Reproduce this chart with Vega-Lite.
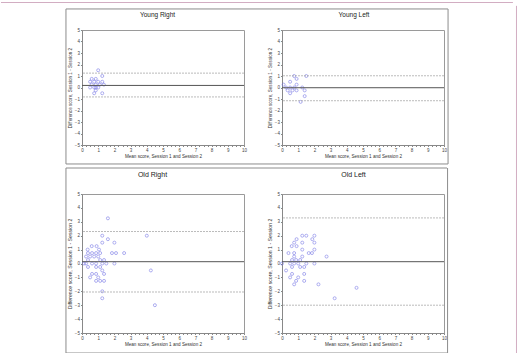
{
  "$schema": "https://vega.github.io/schema/vega-lite/v6.json",
  "background": "white",
  "padding": {"left": 0, "top": 1, "right": 0, "bottom": 0},
  "datasets": {
    "pts": [
      {"panel": "Young Right", "x": 1.0, "y": 1.5}, {"panel": "Young Right", "x": 1.25, "y": 1.0},
      {"panel": "Young Right", "x": 0.6, "y": 0.75}, {"panel": "Young Right", "x": 0.85, "y": 0.75},
      {"panel": "Young Right", "x": 0.5, "y": 0.5}, {"panel": "Young Right", "x": 0.75, "y": 0.5},
      {"panel": "Young Right", "x": 1.0, "y": 0.5}, {"panel": "Young Right", "x": 1.25, "y": 0.5},
      {"panel": "Young Right", "x": 0.6, "y": 0.25}, {"panel": "Young Right", "x": 0.85, "y": 0.25},
      {"panel": "Young Right", "x": 1.1, "y": 0.25}, {"panel": "Young Right", "x": 1.35, "y": 0.25},
      {"panel": "Young Right", "x": 0.5, "y": 0}, {"panel": "Young Right", "x": 0.75, "y": 0},
      {"panel": "Young Right", "x": 0.85, "y": 0}, {"panel": "Young Right", "x": 1.0, "y": 0},
      {"panel": "Young Right", "x": 0.85, "y": -0.25}, {"panel": "Young Right", "x": 0.75, "y": -0.5},
      {"panel": "Young Right", "x": 1.25, "y": -0.5},

      {"panel": "Young Left", "x": 0.1, "y": 0.25}, {"panel": "Young Left", "x": 0.25, "y": 0},
      {"panel": "Young Left", "x": 0.35, "y": -0.25}, {"panel": "Young Left", "x": 0.5, "y": 0},
      {"panel": "Young Left", "x": 0.5, "y": 0.5}, {"panel": "Young Left", "x": 0.5, "y": -0.5},
      {"panel": "Young Left", "x": 0.65, "y": -0.25}, {"panel": "Young Left", "x": 0.75, "y": 1.0},
      {"panel": "Young Left", "x": 0.75, "y": 0}, {"panel": "Young Left", "x": 0.9, "y": 0.75},
      {"panel": "Young Left", "x": 0.9, "y": 0.25}, {"panel": "Young Left", "x": 0.9, "y": -0.25},
      {"panel": "Young Left", "x": 1.15, "y": -1.25}, {"panel": "Young Left", "x": 1.25, "y": 0},
      {"panel": "Young Left", "x": 1.4, "y": -0.25}, {"panel": "Young Left", "x": 1.4, "y": -0.75},
      {"panel": "Young Left", "x": 1.5, "y": 1.0},

      {"panel": "Old Right", "x": 1.6, "y": 3.25}, {"panel": "Old Right", "x": 1.25, "y": 2.0},
      {"panel": "Old Right", "x": 1.6, "y": 1.75}, {"panel": "Old Right", "x": 2.0, "y": 1.5},
      {"panel": "Old Right", "x": 1.25, "y": 1.5}, {"panel": "Old Right", "x": 4.0, "y": 2.0},
      {"panel": "Old Right", "x": 0.6, "y": 1.25}, {"panel": "Old Right", "x": 0.9, "y": 1.25},
      {"panel": "Old Right", "x": 0.35, "y": 1.0}, {"panel": "Old Right", "x": 1.05, "y": 1.0},
      {"panel": "Old Right", "x": 0.25, "y": 0.5}, {"panel": "Old Right", "x": 0.37, "y": 0.75},
      {"panel": "Old Right", "x": 0.62, "y": 0.75}, {"panel": "Old Right", "x": 0.87, "y": 0.75},
      {"panel": "Old Right", "x": 1.12, "y": 0.75}, {"panel": "Old Right", "x": 1.85, "y": 0.75},
      {"panel": "Old Right", "x": 2.1, "y": 0.75}, {"panel": "Old Right", "x": 2.6, "y": 0.75},
      {"panel": "Old Right", "x": 0.5, "y": 0.5}, {"panel": "Old Right", "x": 0.75, "y": 0.5},
      {"panel": "Old Right", "x": 1.0, "y": 0.5}, {"panel": "Old Right", "x": 0.37, "y": 0.25},
      {"panel": "Old Right", "x": 1.12, "y": 0.25}, {"panel": "Old Right", "x": 1.36, "y": 0.25},
      {"panel": "Old Right", "x": 0.12, "y": 0}, {"panel": "Old Right", "x": 0.25, "y": 0},
      {"panel": "Old Right", "x": 0.62, "y": 0}, {"panel": "Old Right", "x": 0.87, "y": 0},
      {"panel": "Old Right", "x": 1.25, "y": 0}, {"panel": "Old Right", "x": 1.5, "y": 0},
      {"panel": "Old Right", "x": 2.0, "y": 0}, {"panel": "Old Right", "x": 0.37, "y": -0.25},
      {"panel": "Old Right", "x": 0.87, "y": -0.25}, {"panel": "Old Right", "x": 1.12, "y": -0.25},
      {"panel": "Old Right", "x": 1.25, "y": -0.5}, {"panel": "Old Right", "x": 4.25, "y": -0.5},
      {"panel": "Old Right", "x": 0.62, "y": -0.75}, {"panel": "Old Right", "x": 0.87, "y": -0.75},
      {"panel": "Old Right", "x": 1.36, "y": -0.75}, {"panel": "Old Right", "x": 0.5, "y": -1.0},
      {"panel": "Old Right", "x": 1.0, "y": -1.0}, {"panel": "Old Right", "x": 0.87, "y": -1.25},
      {"panel": "Old Right", "x": 1.12, "y": -1.25}, {"panel": "Old Right", "x": 1.36, "y": -1.25},
      {"panel": "Old Right", "x": 1.25, "y": -2.0}, {"panel": "Old Right", "x": 1.25, "y": -2.5},
      {"panel": "Old Right", "x": 4.5, "y": -3.0},

      {"panel": "Old Left", "x": 1.25, "y": 2.0}, {"panel": "Old Left", "x": 1.5, "y": 2.0},
      {"panel": "Old Left", "x": 2.0, "y": 2.0}, {"panel": "Old Left", "x": 0.9, "y": 1.75},
      {"panel": "Old Left", "x": 1.87, "y": 1.75}, {"panel": "Old Left", "x": 0.75, "y": 1.5},
      {"panel": "Old Left", "x": 1.25, "y": 1.5}, {"panel": "Old Left", "x": 2.0, "y": 1.5},
      {"panel": "Old Left", "x": 0.6, "y": 1.25}, {"panel": "Old Left", "x": 0.9, "y": 1.25},
      {"panel": "Old Left", "x": 1.25, "y": 1.0}, {"panel": "Old Left", "x": 2.0, "y": 1.0},
      {"panel": "Old Left", "x": 0.4, "y": 0.75}, {"panel": "Old Left", "x": 0.75, "y": 0.75},
      {"panel": "Old Left", "x": 1.65, "y": 0.75}, {"panel": "Old Left", "x": 1.85, "y": 0.75},
      {"panel": "Old Left", "x": 0.75, "y": 0.5}, {"panel": "Old Left", "x": 1.25, "y": 0.5},
      {"panel": "Old Left", "x": 2.75, "y": 0.5}, {"panel": "Old Left", "x": 0.62, "y": 0.25},
      {"panel": "Old Left", "x": 0.87, "y": 0.25}, {"panel": "Old Left", "x": 1.12, "y": 0.25},
      {"panel": "Old Left", "x": 0.5, "y": 0}, {"panel": "Old Left", "x": 0.75, "y": 0},
      {"panel": "Old Left", "x": 1.0, "y": 0}, {"panel": "Old Left", "x": 1.5, "y": 0},
      {"panel": "Old Left", "x": 2.0, "y": 0}, {"panel": "Old Left", "x": 0.0, "y": 0},
      {"panel": "Old Left", "x": 0.62, "y": -0.25}, {"panel": "Old Left", "x": 1.12, "y": -0.25},
      {"panel": "Old Left", "x": 1.37, "y": -0.25}, {"panel": "Old Left", "x": 0.25, "y": -0.5},
      {"panel": "Old Left", "x": 0.62, "y": -0.75}, {"panel": "Old Left", "x": 1.37, "y": -0.75},
      {"panel": "Old Left", "x": 0.5, "y": -1.0}, {"panel": "Old Left", "x": 1.0, "y": -1.0},
      {"panel": "Old Left", "x": 0.87, "y": -1.25}, {"panel": "Old Left", "x": 1.37, "y": -1.25},
      {"panel": "Old Left", "x": 0.75, "y": -1.5}, {"panel": "Old Left", "x": 2.25, "y": -1.5},
      {"panel": "Old Left", "x": 4.6, "y": -1.75}, {"panel": "Old Left", "x": 3.25, "y": -2.5}
    ],
    "refs": [
      {"panel": "Young Right", "kind": "mean", "value": 0.18},
      {"panel": "Young Right", "kind": "limit", "value": 1.25},
      {"panel": "Young Right", "kind": "limit", "value": -0.82},
      {"panel": "Young Left", "kind": "mean", "value": -0.02},
      {"panel": "Young Left", "kind": "limit", "value": 1.02},
      {"panel": "Young Left", "kind": "limit", "value": -1.15},
      {"panel": "Old Right", "kind": "mean", "value": 0.13},
      {"panel": "Old Right", "kind": "limit", "value": 2.3},
      {"panel": "Old Right", "kind": "limit", "value": -2.05},
      {"panel": "Old Left", "kind": "mean", "value": 0.13},
      {"panel": "Old Left", "kind": "limit", "value": 3.28},
      {"panel": "Old Left", "kind": "limit", "value": -3.0}
    ]
  },
  "config": {
    "font": "Liberation Sans",
    "view": {"stroke": "#9a9a9a", "strokeWidth": 1},
    "axis": {
      "grid": false,
      "labelFont": "Liberation Sans",
      "titleFont": "Liberation Sans",
      "labelFontSize": 4.5,
      "titleFontSize": 4.6,
      "titleFontWeight": "normal",
      "labelColor": "#444",
      "titleColor": "#333",
      "domainColor": "#888",
      "tickColor": "#888",
      "tickSize": 1.5,
      "labelPadding": 1,
      "titlePadding": 1.5,
      "labelOverlap": false,
      "labelFlush": false
    }
  },
  "columns": 2,
  "bounds": "flush",
  "spacing": {"row": 49, "column": 38},
  "concat": [
    {
      "width": 162, "height": 115,
      "resolve": {"axis": {"x": "independent", "y": "independent"}},
      "layer": [
        {
          "data": {"name": "pts"},
          "transform": [{"filter": "datum.panel === 'Young Right'"}],
          "mark": {"type": "point", "shape": "circle", "size": 9, "color": "#6f6fe4", "strokeWidth": 0.8},
          "encoding": {
            "x": {"field": "x", "type": "quantitative", "scale": {"domain": [0, 10], "nice": false},
                  "axis": {"title": "Mean score, Session 1 and Session 2",
                           "values": [0,0.25,0.5,0.75,1,1.25,1.5,1.75,2,2.25,2.5,2.75,3,3.25,3.5,3.75,4,4.25,4.5,4.75,5,5.25,5.5,5.75,6,6.25,6.5,6.75,7,7.25,7.5,7.75,8,8.25,8.5,8.75,9,9.25,9.5,9.75,10],
                           "labelExpr": "datum.value % 1 === 0 ? format(datum.value, 'd') : ''"}},
            "y": {"field": "y", "type": "quantitative", "scale": {"domain": [-5, 5], "nice": false},
                  "axis": {"title": "Difference score, Session 1 - Session 2",
                           "values": [-5,-4,-3,-2,-1,0,1,2,3,4,5], "format": "d"}}
          }
        },
        {
          "data": {"name": "refs"},
          "transform": [{"filter": "datum.panel === 'Young Right' && datum.kind === 'limit'"}],
          "mark": {"type": "rule", "color": "#aaaaaa", "strokeWidth": 0.8, "strokeDash": [2, 1]},
          "encoding": {"y": {"field": "value", "type": "quantitative", "axis": null}}
        },
        {
          "data": {"name": "refs"},
          "transform": [{"filter": "datum.panel === 'Young Right' && datum.kind === 'mean'"}],
          "mark": {"type": "rule", "color": "#555555", "strokeWidth": 1},
          "encoding": {"y": {"field": "value", "type": "quantitative", "axis": null}}
        },
        {
          "data": {"values": [{}]},
          "mark": {"type": "rule", "color": "#d2adc2", "strokeWidth": 1},
          "encoding": {"x": {"datum": -5.0, "axis": null}, "x2": {"datum": 26.6}, "y": {"datum": 7.39, "axis": null}}
        },
        {
          "data": {"values": [{}]},
          "mark": {"type": "rule", "color": "#d2adc2", "strokeWidth": 1},
          "encoding": {"x": {"datum": 26.82, "axis": null}, "y": {"datum": 7.1, "axis": null}, "y2": {"datum": -23.2}}
        },
        {
          "data": {"values": [{}]},
          "mark": {"type": "rule", "color": "#8c8c8c", "strokeWidth": 1},
          "encoding": {
            "x": {"datum": -0.99, "axis": {"orient": "top", "title": "Young Right", "labels": false, "ticks": false, "domain": false,
                                           "titleFontSize": 6.5, "titleColor": "#222", "titlePadding": 13, "titleX": 75}},
            "x2": {"datum": 22.59}, "y": {"datum": 6.83, "axis": null}}
        },
        {
          "data": {"values": [{}]},
          "mark": {"type": "rule", "color": "#8c8c8c", "strokeWidth": 1},
          "encoding": {"x": {"datum": -0.99, "axis": null}, "x2": {"datum": 22.59}, "y": {"datum": -6.65, "axis": null}}
        },
        {
          "data": {"values": [{}]},
          "mark": {"type": "rule", "color": "#8c8c8c", "strokeWidth": 1},
          "encoding": {"x": {"datum": -0.99, "axis": null}, "y": {"datum": 6.83, "axis": null}, "y2": {"datum": -6.65}}
        }
      ]
    },
    {
      "width": 162, "height": 115,
      "resolve": {"axis": {"x": "independent", "y": "independent"}},
      "layer": [
        {
          "data": {"name": "pts"},
          "transform": [{"filter": "datum.panel === 'Young Left'"}],
          "mark": {"type": "point", "shape": "circle", "size": 9, "color": "#6f6fe4", "strokeWidth": 0.8},
          "encoding": {
            "x": {"field": "x", "type": "quantitative", "scale": {"domain": [0, 10], "nice": false},
                  "axis": {"title": "Mean score, Session 1 and Session 2",
                           "values": [0,0.25,0.5,0.75,1,1.25,1.5,1.75,2,2.25,2.5,2.75,3,3.25,3.5,3.75,4,4.25,4.5,4.75,5,5.25,5.5,5.75,6,6.25,6.5,6.75,7,7.25,7.5,7.75,8,8.25,8.5,8.75,9,9.25,9.5,9.75,10],
                           "labelExpr": "datum.value % 1 === 0 ? format(datum.value, 'd') : ''"}},
            "y": {"field": "y", "type": "quantitative", "scale": {"domain": [-5, 5], "nice": false},
                  "axis": {"title": "Difference score, Session 1 - Session 2",
                           "values": [-5,-4,-3,-2,-1,0,1,2,3,4,5], "format": "d"}}
          }
        },
        {
          "data": {"name": "refs"},
          "transform": [{"filter": "datum.panel === 'Young Left' && datum.kind === 'limit'"}],
          "mark": {"type": "rule", "color": "#aaaaaa", "strokeWidth": 0.8, "strokeDash": [2, 1]},
          "encoding": {"y": {"field": "value", "type": "quantitative", "axis": null}}
        },
        {
          "data": {"name": "refs"},
          "transform": [{"filter": "datum.panel === 'Young Left' && datum.kind === 'mean'"}],
          "mark": {"type": "rule", "color": "#555555", "strokeWidth": 1},
          "encoding": {"y": {"field": "value", "type": "quantitative", "axis": null}}
        },
        {
          "data": {"values": [{}]},
          "mark": {"type": "rule", "color": "#8c8c8c", "strokeWidth": 1},
          "encoding": {
            "x": {"datum": 10.25, "axis": {"orient": "top", "title": "Young Left", "labels": false, "ticks": false, "domain": false,
                                           "titleFontSize": 6.5, "titleColor": "#222", "titlePadding": 13, "titleX": 71.5}},
            "y": {"datum": 6.83, "axis": null}, "y2": {"datum": -6.65}}
        }
      ]
    },
    {
      "width": 162, "height": 139,
      "resolve": {"axis": {"x": "independent", "y": "independent"}},
      "layer": [
        {
          "data": {"name": "pts"},
          "transform": [{"filter": "datum.panel === 'Old Right'"}],
          "mark": {"type": "point", "shape": "circle", "size": 9, "color": "#6f6fe4", "strokeWidth": 0.8},
          "encoding": {
            "x": {"field": "x", "type": "quantitative", "scale": {"domain": [0, 10], "nice": false},
                  "axis": {"title": "Mean score, Session 1 and Session 2",
                           "values": [0,0.25,0.5,0.75,1,1.25,1.5,1.75,2,2.25,2.5,2.75,3,3.25,3.5,3.75,4,4.25,4.5,4.75,5,5.25,5.5,5.75,6,6.25,6.5,6.75,7,7.25,7.5,7.75,8,8.25,8.5,8.75,9,9.25,9.5,9.75,10],
                           "labelExpr": "datum.value % 1 === 0 ? format(datum.value, 'd') : ''"}},
            "y": {"field": "y", "type": "quantitative", "scale": {"domain": [-5, 5], "nice": false},
                  "axis": {"title": "Difference score, Session 1 - Session 2", "titleFontSize": 5.2,
                           "values": [-5,-4,-3,-2,-1,0,1,2,3,4,5], "format": "d"}}
          }
        },
        {
          "data": {"name": "refs"},
          "transform": [{"filter": "datum.panel === 'Old Right' && datum.kind === 'limit'"}],
          "mark": {"type": "rule", "color": "#aaaaaa", "strokeWidth": 0.8, "strokeDash": [2, 1]},
          "encoding": {"y": {"field": "value", "type": "quantitative", "axis": null}}
        },
        {
          "data": {"name": "refs"},
          "transform": [{"filter": "datum.panel === 'Old Right' && datum.kind === 'mean'"}],
          "mark": {"type": "rule", "color": "#555555", "strokeWidth": 1},
          "encoding": {"y": {"field": "value", "type": "quantitative", "axis": null}}
        },
        {
          "data": {"values": [{}]},
          "mark": {"type": "rule", "color": "#8c8c8c", "strokeWidth": 1},
          "encoding": {
            "x": {"datum": -0.99, "axis": {"orient": "top", "title": "Old Right", "labels": false, "ticks": false, "domain": false,
                                           "titleFontSize": 7, "titleColor": "#222", "titlePadding": 17, "titleX": 70}},
            "x2": {"datum": 22.53}, "y": {"datum": 6.87, "axis": null}}
        },
        {
          "data": {"values": [{}]},
          "mark": {"type": "rule", "color": "#8c8c8c", "strokeWidth": 1},
          "encoding": {"x": {"datum": -0.99, "axis": null}, "x2": {"datum": 22.53}, "y": {"datum": -6.44, "axis": null}}
        },
        {
          "data": {"values": [{}]},
          "mark": {"type": "rule", "color": "#8c8c8c", "strokeWidth": 1},
          "encoding": {"x": {"datum": -0.99, "axis": null}, "y": {"datum": 6.87, "axis": null}, "y2": {"datum": -6.44}}
        }
      ]
    },
    {
      "width": 162, "height": 139,
      "resolve": {"axis": {"x": "independent", "y": "independent"}},
      "layer": [
        {
          "data": {"name": "pts"},
          "transform": [{"filter": "datum.panel === 'Old Left'"}],
          "mark": {"type": "point", "shape": "circle", "size": 9, "color": "#6f6fe4", "strokeWidth": 0.8},
          "encoding": {
            "x": {"field": "x", "type": "quantitative", "scale": {"domain": [0, 10], "nice": false},
                  "axis": {"title": "Mean score, Session 1 and Session 2",
                           "values": [0,0.25,0.5,0.75,1,1.25,1.5,1.75,2,2.25,2.5,2.75,3,3.25,3.5,3.75,4,4.25,4.5,4.75,5,5.25,5.5,5.75,6,6.25,6.5,6.75,7,7.25,7.5,7.75,8,8.25,8.5,8.75,9,9.25,9.5,9.75,10],
                           "labelExpr": "datum.value % 1 === 0 ? format(datum.value, 'd') : ''"}},
            "y": {"field": "y", "type": "quantitative", "scale": {"domain": [-5, 5], "nice": false},
                  "axis": {"title": "Difference score, Session 1 - Session 2", "titleFontSize": 5.2,
                           "values": [-5,-4,-3,-2,-1,0,1,2,3,4,5], "format": "d"}}
          }
        },
        {
          "data": {"name": "refs"},
          "transform": [{"filter": "datum.panel === 'Old Left' && datum.kind === 'limit'"}],
          "mark": {"type": "rule", "color": "#aaaaaa", "strokeWidth": 0.8, "strokeDash": [2, 1]},
          "encoding": {"y": {"field": "value", "type": "quantitative", "axis": null}}
        },
        {
          "data": {"name": "refs"},
          "transform": [{"filter": "datum.panel === 'Old Left' && datum.kind === 'mean'"}],
          "mark": {"type": "rule", "color": "#555555", "strokeWidth": 1},
          "encoding": {"y": {"field": "value", "type": "quantitative", "axis": null}}
        },
        {
          "data": {"values": [{}]},
          "mark": {"type": "rule", "color": "#8c8c8c", "strokeWidth": 1},
          "encoding": {
            "x": {"datum": 10.22, "axis": {"orient": "top", "title": "Old Left", "labels": false, "ticks": false, "domain": false,
                                           "titleFontSize": 7, "titleColor": "#222", "titlePadding": 17, "titleX": 71}},
            "y": {"datum": 6.87, "axis": null}, "y2": {"datum": -6.44}}
        }
      ]
    }
  ]
}
